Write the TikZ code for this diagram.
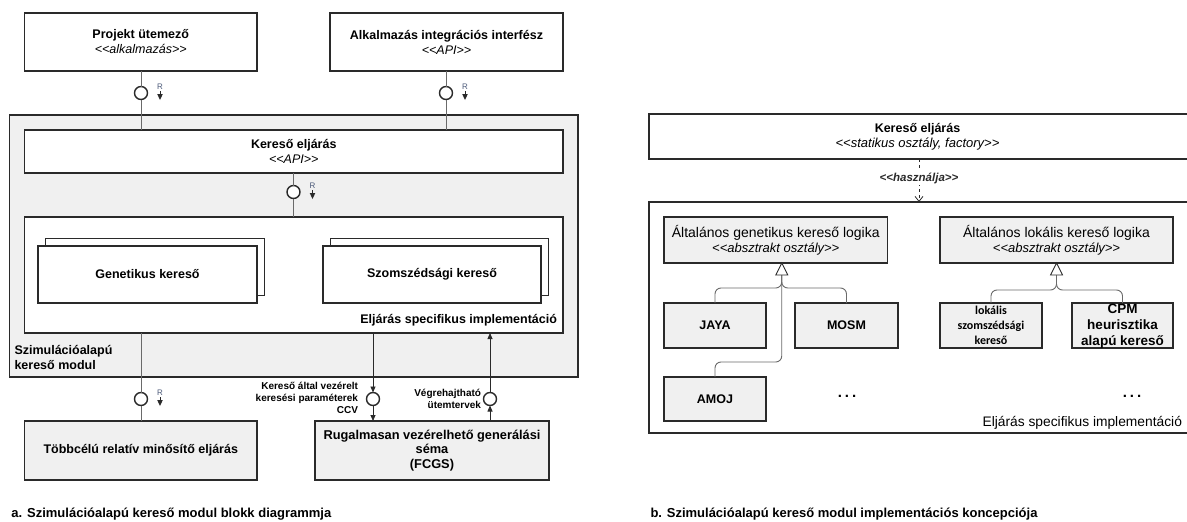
\documentclass[tikz,border=0pt]{standalone}
\usepackage{fontspec}
\setmainfont{Liberation Sans}[Ligatures=TeXOff]
\newfontfamily\carlito{Carlito}[Ligatures=TeXOff]
\usetikzlibrary{arrows.meta,calc}
\definecolor{boxfill}{HTML}{F0F0F0}
\definecolor{bord}{HTML}{2A2A2A}
\definecolor{conn}{HTML}{6A6A6A}
\definecolor{rcol}{HTML}{4A5878}
\newcommand\fsz[2]{\fontsize{#1}{#2}\selectfont}
\newcommand\stereo[1]{{\mdseries\itshape #1}}
\tikzset{
  every node/.style={inner sep=0pt, outer sep=0pt},
  wh/.style 2 args={minimum width=#1pt, minimum height=#2pt},
  blk/.style={draw=bord, line width=1.3pt, align=center, font=\fsz{12.5}{15}\bfseries},
  rblk/.style={draw=bord, line width=1.6pt, align=center, fill=boxfill, font=\fsz{12.5}{15}\bfseries},
  lolli/.style={circle, draw=bord, line width=1.4pt, fill=white, minimum size=13pt},
  cl/.style={draw=conn, line width=0.8pt},
  arr/.style={draw=bord, line width=0.8pt, -{Triangle[length=6pt,width=5pt]}},
  gen/.style={draw=conn, line width=0.9pt, rounded corners=6pt},
  rtxt/.style={font=\fsz{8}{9}, text=rcol},
  lbl/.style={font=\fsz{12.5}{15}\bfseries},
  small/.style={font=\fsz{10}{12}\bfseries, align=right},
  capt/.style={font=\fsz{13}{14}\bfseries, anchor=west},
}
\newcommand\rmark[3]{%
  \node[rtxt] (#1) at (#2,#3) {R};
  \draw[bord, line width=0.6pt] (#2,#3+4) -- (#2,#3+7);
  \fill[bord] (#2-2.8,#3+7) -- (#2+2.8,#3+7) -- (#2,#3+13) -- cycle;}
\begin{document}
\begin{tikzpicture}[x=1pt,y=-1pt]
\useasboundingbox (0,0) rectangle (1187,522);
\clip (0,0) rectangle (1187,522);

% ---------------- left panel ----------------
\node[blk, fill=white, wh={232.5}{58}] (proj) at (140.75,42) {Projekt ütemező\\\stereo{<<alkalmazás>>}};
\node[blk, fill=white, wh={233}{58}] (alk) at (446.5,42) {Alkalmazás integrációs interfész\\\stereo{<<API>>}};

\node[draw=bord, line width=1.3pt, fill=boxfill, wh={568.4}{262}] (mod) at (293.8,246) {};
\node[blk, fill=white, wh={538.5}{43}] (ker) at (293.75,151.5) {Kereső eljárás\\\stereo{<<API>>}};
\node[blk, fill=white, wh={538.5}{116}] (impl) at (293.75,275) {};

\node[blk, fill=white, wh={219}{57}] (genb) at (155,267) {};
\node[blk, fill=white, wh={219}{57}] (gen) at (147.5,274.5) {Genetikus kereső};
\node[blk, fill=white, wh={218}{57}] (szomb) at (439.5,267) {};
\node[blk, fill=white, wh={218}{57}] (szom) at (432,274.5) {Szomszédsági kereső};

\node[lbl, anchor=east] (impllbl) at (557,320) {Eljárás specifikus implementáció};
\node[lbl, anchor=west, align=left] (modlbl) at (14.5,357.5) {Szimulációalapú\\kereső modul};

\node[blk, fill=boxfill, wh={232.5}{59}] (tobb) at (140.75,450.5) {Többcélú relatív minősítő eljárás};
\node[blk, fill=boxfill, wh={234}{59}, font=\fsz{12.8}{14.5}\bfseries] (rug) at (432,450.5) {Rugalmasan vezérelhető generálási\\séma\\(FCGS)};

% lollipops
\node[lolli] (c1) at (141,93) {};
\node[lolli] (c2) at (446,93) {};
\node[lolli] (c3) at (293.5,192) {};
\node[lolli] (c4) at (141,399) {};
\node[lolli] (c5) at (373,399) {};
\node[lolli] (c6) at (490,399) {};

\draw[cl] (c1 |- proj.south) -- (c1.north);
\draw[cl] (c1.south) -- (c1 |- ker.north);
\draw[cl] (c2 |- alk.south) -- (c2.north);
\draw[cl] (c2.south) -- (c2 |- ker.north);
\draw[cl] (c3 |- ker.south) -- (c3.north);
\draw[cl] (c3.south) -- (c3 |- impl.north);
\draw[cl] (c4 |- impl.south) -- (c4.north);
\draw[cl] (c4.south) -- (c4 |- tobb.north);
\draw[arr] (c5 |- impl.south) -- (c5.north);
\draw[arr] (c5.south) -- (c5 |- rug.north);
\draw[arr] (c6 |- rug.north) -- (c6.south);
\draw[arr] (c6.north) -- (c6 |- impl.south);

\rmark{r1}{160}{87}
\rmark{r2}{465}{87}
\rmark{r3}{312.5}{186}
\rmark{r4}{160}{393}

\node[small, anchor=east] (ccv) at (358,398) {Kereső által vezérelt\\keresési paraméterek\\CCV};
\node[small, anchor=east] (vegr) at (481,399) {Végrehajtható\\ütemtervek};

\node[capt] (capa) at (11.5,514) {a. Szimulációalapú kereső modul blokk diagrammja};

% ---------------- right panel ----------------
\node[draw=bord, line width=1.6pt, fill=white, wh={545}{45}, align=center, font=\fsz{12.5}{15}\bfseries, anchor=west] (ker2) at (649,136.5) {\hspace*{-8pt}Kereső eljárás\\\hspace*{-8pt}\stereo{\fsz{13}{15}<<statikus osztály, factory>>}};
\node[draw=bord, line width=1.6pt, fill=white, wh={545}{231}, anchor=north west] (outer2) at (649,202) {};

\draw[bord, line width=0.8pt, dash pattern=on 3pt off 3pt, -{Straight Barb[length=5pt,width=8pt]}] (ker2.south -| 919,0) -- (outer2.north -| 919,0)
  node[pos=0.45, fill=white, inner sep=1.5pt, font=\fsz{11.5}{13}\bfseries\itshape] (hasz) {<<használja>>};

\node[rblk, wh={223.5}{46}, font=\fsz{14}{15}] (ag) at (775.75,240) {Általános genetikus kereső logika\\\stereo{\fsz{13}{15}<<absztrakt osztály>>}};
\node[rblk, wh={233}{46}, font=\fsz{14}{15}] (al) at (1056.5,240) {Általános lokális kereső logika\\\stereo{\fsz{13}{15}<<absztrakt osztály>>}};

\node[rblk, wh={102}{45}] (jaya) at (715,325.5) {JAYA};
\node[rblk, wh={103}{45}] (mosm) at (846.5,325.5) {MOSM};
\node[rblk, wh={102}{44}] (amoj) at (715,399) {AMOJ};
\node[rblk, wh={102}{45}] (lszk) at (991,325.5) {};
\node[font=\carlito\fsz{12}{15}\bfseries, align=center] (lszkt) at (991,325.5) {lokális\\szomszédsági\\kereső};
\node[rblk, wh={101}{45}] (cpm) at (1122.5,325.5) {};
\node[font=\fsz{13.5}{16}\bfseries, align=center] (cpmt) at (1122.5,326) {CPM\\heurisztika\\alapú kereső};

\node[font=\fsz{15}{15}\bfseries] (dots1) at (847,396) {.\hspace{3pt}.\hspace{3pt}.};
\node[font=\fsz{15}{15}\bfseries] (dots2) at (1132,396) {.\hspace{3pt}.\hspace{3pt}.};
\node[font=\fsz{13.8}{15}, anchor=east] (impl2) at (1182,423) {Eljárás specifikus implementáció};

% generalization (genetic)
\coordinate (tg) at ([xshift=6pt]ag.south);
\draw[gen] (tg) ++(0,12) -- ++(0,87) -- (jaya.south |- 0,362) -- (amoj.north);
\draw[gen] (tg) ++(0,12) -- ++(0,13) -- (jaya.north |- 0,288) -- (jaya.north);
\draw[gen] (tg) ++(0,12) -- ++(0,13) -- (mosm.north |- 0,288) -- (mosm.north);
\draw[bord, line width=0.9pt, fill=white] (tg) -- ++(6,12) -- ++(-12,0) -- cycle;

% generalization (local)
\coordinate (tl) at (al.south);
\draw[gen] (tl) ++(0,12) -- ++(0,15) -- (lszk.north |- 0,290) -- (lszk.north);
\draw[gen] (tl) ++(0,12) -- ++(0,15) -- (cpm.north |- 0,290) -- (cpm.north);
\draw[bord, line width=0.9pt, fill=white] (tl) -- ++(6,12) -- ++(-12,0) -- cycle;

\node[capt] (capb) at (650.5,514) {b. Szimulációalapú kereső modul implementációs koncepciója};
\end{tikzpicture}
\end{document}
